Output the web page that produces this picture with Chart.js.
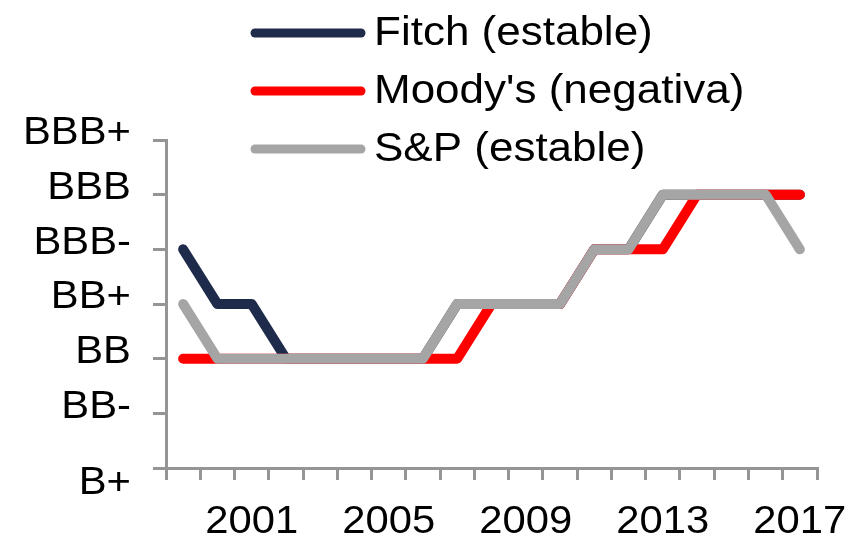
<!DOCTYPE html>
<html>
<head>
<meta charset="utf-8">
<script src="https://cdn.jsdelivr.net/npm/chart.js@4/dist/chart.umd.min.js"></script>
<style>
  html, body { margin: 0; padding: 0; background: #fff; }
  canvas { display: block; }
</style>
</head>
<body>
<canvas id="ratingsChart" width="853" height="537"></canvas>
<script>
// years on the x axis
const years = ['1999', '2000', '2001', '2002', '2003', '2004', '2005', '2006', '2007', '2008',
               '2009', '2010', '2011', '2012', '2013', '2014', '2015', '2016', '2017'];
const shownYears = ['2001', '2005', '2009', '2013', '2017'];

// rating scale, bottom to top
const ratingLabels = ['B+', 'BB-', 'BB', 'BB+', 'BBB-', 'BBB', 'BBB+'];

// ratings as index into ratingLabels
const fitch  = [4, 3, 3, 2, 2, 2, 2, 2, 3, 3, 3, 3, 4, 4, 5, 5, 5, 5, 5];
const moodys = [2, 2, 2, 2, 2, 2, 2, 2, 2, 3, 3, 3, 4, 4, 4, 5, 5, 5, 5];
const sp     = [3, 2, 2, 2, 2, 2, 2, 2, 3, 3, 3, 3, 4, 4, 5, 5, 5, 5, 4];

const seriesNames = ['Fitch (estable)', "Moody's (negativa)", 'S&P (estable)'];
const seriesColors = ['#1f2b4a', '#ff0000', '#a5a5a5'];

const axisColor = '#959595';
const fontFamily = '"Liberation Sans", Arial, sans-serif';
const stretch = 1.1; // the original text is a bit wide

function lineSet(i, data, order) {
    return {
        label: seriesNames[i],
        data: data,
        borderColor: seriesColors[i],
        backgroundColor: seriesColors[i],
        borderWidth: 10,
        borderCapStyle: 'round',
        borderJoinStyle: 'round',
        pointRadius: 0,
        pointHoverRadius: 0,
        tension: 0,
        fill: false,
        order: order
    };
}

function wideText(ctx, text, x, y, align, size, baseline) {
    ctx.save();
    ctx.translate(x, y);
    ctx.scale(stretch, 1);
    ctx.fillStyle = '#000';
    ctx.font = size + 'px ' + fontFamily;
    ctx.textAlign = align;
    ctx.textBaseline = baseline;
    ctx.fillText(text, 0, 0);
    ctx.restore();
}

// tick labels and legend drawn by hand (stretched text, legend over the plot)
const textOverlay = {
    id: 'textOverlay',
    afterDraw(chart) {
        const ctx = chart.ctx;
        const xs = chart.scales.x, ys = chart.scales.y;

        ratingLabels.forEach((lab, i) => {
            // lowest label hangs below the axis corner like in the original
            const shift = i === 0 ? 16 : -6;
            wideText(ctx, lab, 131, ys.getPixelForValue(i) + shift, 'right', 38, 'middle');
        });
        shownYears.forEach(yr => {
            wideText(ctx, yr, xs.getPixelForValue(years.indexOf(yr)), 533, 'center', 38, 'alphabetic');
        });

        ctx.save();
        chart.data.datasets.forEach((ds, i) => {
            const y = 33 + i * 58;
            ctx.strokeStyle = ds.borderColor;
            ctx.lineWidth = 9;
            ctx.lineCap = 'round';
            ctx.beginPath();
            ctx.moveTo(255, y);
            ctx.lineTo(361, y);
            ctx.stroke();
            wideText(ctx, ds.label, 374, y + 1, 'left', 40, 'middle');
        });
        ctx.restore();
    }
};

new Chart(document.getElementById('ratingsChart'), {
    type: 'line',
    data: {
        labels: years,
        datasets: [lineSet(0, fitch, 3), lineSet(1, moodys, 2), lineSet(2, sp, 1)]
    },
    options: {
        responsive: false,
        animation: false,
        layout: { padding: { top: 140, right: 36, left: 0, bottom: 0 } },
        plugins: {
            legend: { display: false },
            tooltip: { enabled: false }
        },
        scales: {
            x: {
                offset: true,
                afterFit: s => { s.height = 69; },
                grid: {
                    offset: true,
                    drawOnChartArea: false,
                    drawTicks: true,
                    tickLength: 12,
                    color: axisColor,
                    lineWidth: 3
                },
                border: { display: true, color: axisColor, width: 3 },
                ticks: { display: false, autoSkip: false }
            },
            y: {
                min: 0,
                max: 6,
                afterFit: s => { s.width = 166; },
                grid: {
                    drawOnChartArea: false,
                    drawTicks: true,
                    tickLength: 13,
                    color: axisColor,
                    lineWidth: 3
                },
                border: { display: true, color: axisColor, width: 3 },
                ticks: { display: false, stepSize: 1 }
            }
        }
    },
    plugins: [textOverlay]
});
</script>
</body>
</html>
